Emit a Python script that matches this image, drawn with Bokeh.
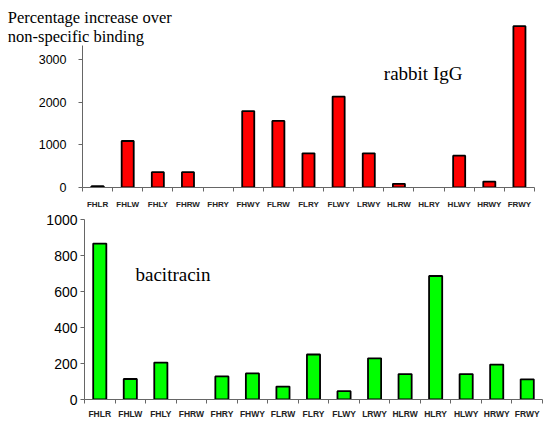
from bokeh.plotting import figure
from bokeh.models import FixedTicker, Label, ColumnDataSource, GridBox, Range1d
from bokeh.embed import file_html
from bokeh.resources import INLINE

categories = ["FHLR", "FHLW", "FHLY", "FHRW", "FHRY", "FHWY", "FLRW", "FLRY",
              "FLWY", "LRWY", "HLRW", "HLRY", "HLWY", "HRWY", "FRWY"]
rabbit_igg = [30, 1090, 360, 360, 0, 1790, 1560, 800, 2130, 800, 85, 0, 745, 140, 3780]
bacitracin = [866, 114, 205, 0, 128, 145, 72, 250, 46, 229, 141, 686, 141, 194, 112]
top_ticks = [0, 1000, 2000, 3000]
bottom_ticks = [0, 200, 400, 600, 800, 1000]

centers = [i + 0.5 for i in range(len(categories))]
bounds = list(range(len(categories) + 1))
overrides = {c: name for c, name in zip(centers, categories)}

AXIS = "#666666"
W = 545


def style(p, yticks, ybounds, ysize, ystand, xsize, xstand):
    p.grid.visible = False
    p.outline_line_color = None
    p.background_fill_color = None
    p.border_fill_color = None
    p.frame_align = False
    xa = p.xaxis[0]
    xa.ticker = FixedTicker(ticks=centers, minor_ticks=bounds)
    xa.major_label_overrides = overrides
    xa.major_tick_out = 0
    xa.major_tick_in = 0
    xa.minor_tick_out = 4
    xa.minor_tick_in = 0
    xa.axis_line_color = AXIS
    xa.minor_tick_line_color = AXIS
    xa.major_label_text_font = "Liberation Sans"
    xa.major_label_text_font_style = "bold"
    xa.major_label_text_font_size = xsize
    xa.major_label_text_color = "#222222"
    xa.major_label_standoff = xstand
    ya = p.yaxis[0]
    ya.ticker = FixedTicker(ticks=yticks, minor_ticks=[])
    ya.bounds = ybounds
    ya.major_tick_out = 4
    ya.major_tick_in = 0
    ya.minor_tick_out = 0
    ya.minor_tick_in = 0
    ya.axis_line_color = AXIS
    ya.major_tick_line_color = AXIS
    ya.major_label_text_font = "Liberation Sans"
    ya.major_label_text_font_size = ysize
    ya.major_label_text_color = "black"
    ya.major_label_standoff = ystand


# Top chart: rabbit IgG
p1 = figure(width=W, height=211, x_range=(0, 15), y_range=(0, 4382),
            output_backend="svg", toolbar_location=None,
            min_border_left=82, min_border_right=11, min_border_top=0, min_border_bottom=22)
src1 = ColumnDataSource(dict(x=centers, top=rabbit_igg,
                             la=[0 if v == 0 else 1 for v in rabbit_igg]))
p1.vbar(x="x", top="top", bottom=0, width=0.4, source=src1,
        fill_color="#ff0000", line_color="black", line_width=1.8, line_alpha="la")
style(p1, top_ticks, (0, 3330), "12.5px", 12, "8px", 8)
p1.add_layout(Label(x=10.0, y=2683, text="rabbit IgG", text_font="Liberation Serif",
                    text_font_size="19px", text_color="black", text_baseline="alphabetic"))

# Title overlay (shares the top cell with the top chart)
pt = figure(width=W, height=211, x_range=Range1d(0, W), y_range=Range1d(211, 0),
            output_backend="svg", toolbar_location=None,
            x_axis_type=None, y_axis_type=None,
            min_border_left=0, min_border_right=0, min_border_top=0, min_border_bottom=0)
pt.frame_align = False
pt.grid.visible = False
pt.outline_line_color = None
pt.background_fill_color = None
pt.border_fill_color = None
pt.add_layout(Label(x=7.3, y=17.3, text="Percentage increase over", text_font="Liberation Serif",
                    text_font_size="16.5px", text_color="black", text_baseline="alphabetic"))
pt.add_layout(Label(x=7.3, y=35.7, text="non-specific binding", text_font="Liberation Serif",
                    text_font_size="16.5px", text_color="black", text_baseline="alphabetic"))

# Bottom chart: bacitracin
p2 = figure(width=W, height=218, x_range=(0, 15), y_range=(0, 1000),
            output_backend="svg", toolbar_location=None,
            min_border_left=84, min_border_right=3, min_border_top=8, min_border_bottom=30)
src2 = ColumnDataSource(dict(x=centers, top=bacitracin,
                             la=[0 if v == 0 else 1 for v in bacitracin]))
p2.vbar(x="x", top="top", bottom=0, width=0.43, source=src2,
        fill_color="#00ff00", line_color="black", line_width=1.8, line_alpha="la")
style(p2, bottom_ticks, (0, 1000), "14px", 3, "8.5px", 5)
p2.add_layout(Label(x=1.67, y=694, text="bacitracin", text_font="Liberation Serif",
                    text_font_size="19px", text_color="black", text_baseline="alphabetic"))

layout = GridBox(children=[(pt, 0, 0), (p1, 0, 0), (p2, 1, 0)])
open("out.html", "w").write(file_html(layout, INLINE))
